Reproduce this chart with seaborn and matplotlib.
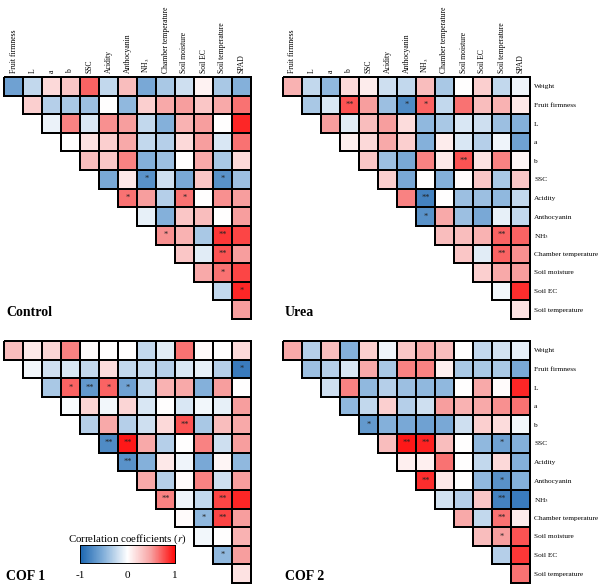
import numpy as np
import pandas as pd
import matplotlib
matplotlib.use('Agg')
import matplotlib.pyplot as plt
import seaborn as sns
from matplotlib.colors import LinearSegmentedColormap

# variable names
col_labels = ['Fruit firmness', 'L', 'a', 'b', 'SSC', 'Acidity', 'Anthocyanin', 'NH$_3$',
              'Chamber temperature', 'Soil moisture', 'Soil EC', 'Soil temperature', 'SPAD']
row_labels = ['Weight', 'Fruit firmness', 'L', 'a', 'b', 'SSC', 'Acidity', 'Anthocyanin', 'NH$_3$',
              'Chamber temperature', 'Soil moisture', 'Soil EC', 'Soil temperature']

# upper triangle correlations, row i starts at column i
control = [
    [-0.6, -0.25, 0.2, 0.3, 0.7, -0.25, 0.35, -0.55, -0.35, -0.2, 0.07, -0.35, -0.5],
    [0.25, -0.3, -0.35, -0.4, 0.0, -0.45, 0.25, 0.45, 0.5, 0.3, 0.45, 0.65],
    [-0.08, 0.6, -0.15, 0.55, 0.5, -0.25, -0.5, 0.4, 0.5, 0.0, 0.9],
    [0.0, 0.15, 0.25, 0.45, -0.25, -0.3, 0.2, 0.5, -0.15, 0.65],
    [0.35, 0.3, 0.6, -0.5, -0.4, 0.0, 0.45, -0.35, 0.2],
    [-0.55, 0.12, -0.7, -0.2, -0.55, 0.3, -0.7, -0.4],
    [0.65, 0.5, -0.3, 0.65, 0.0, 0.55, 0.5],
    [-0.1, -0.5, 0.3, 0.35, 0.0, 0.5],
    [0.55, 0.4, -0.35, 0.85, 0.8],
    [0.3, -0.12, 0.75, 0.5],
    [0.45, 0.65, 0.8],
    [-0.25, 0.9],
    [0.5],
]
urea = [
    [0.4, -0.25, -0.45, 0.2, 0.1, -0.2, -0.25, 0.35, -0.35, 0.0, 0.25, -0.25, -0.07],
    [-0.35, -0.15, 0.75, 0.5, -0.4, -0.75, 0.7, -0.25, 0.65, 0.35, 0.4, 0.12],
    [0.5, -0.12, 0.35, 0.5, 0.18, -0.45, -0.35, -0.15, -0.2, -0.4, -0.5],
    [0.08, 0.2, 0.45, 0.25, -0.5, 0.1, -0.15, -0.3, -0.07, -0.6],
    [0.3, -0.4, -0.55, 0.6, 0.12, 0.75, 0.15, 0.6, 0.05],
    [0.25, -0.55, 0.0, -0.5, 0.02, 0.3, -0.35, 0.3],
    [0.6, -0.8, 0.0, -0.4, -0.4, -0.45, -0.25],
    [-0.7, 0.45, -0.4, -0.55, -0.1, -0.25],
    [0.35, 0.35, 0.4, 0.7, 0.7],
    [0.3, -0.12, 0.7, 0.55],
    [0.25, 0.45, 0.5],
    [-0.05, 0.88],
    [0.15],
]
cof1 = [
    [0.35, 0.12, 0.22, 0.6, 0.02, 0.0, 0.0, -0.25, -0.12, 0.65, 0.03, 0.0, 0.2],
    [-0.05, -0.2, -0.15, -0.25, 0.18, -0.25, -0.25, -0.3, -0.15, -0.1, -0.3, -0.85],
    [-0.35, 0.7, -0.65, 0.7, -0.6, -0.25, 0.4, 0.45, -0.5, 0.5, 0.0],
    [-0.03, 0.22, -0.05, 0.22, -0.15, 0.0, -0.15, -0.05, -0.1, 0.5],
    [-0.3, 0.45, -0.3, -0.2, 0.2, 0.75, -0.35, 0.35, 0.45],
    [-0.75, 0.95, 0.45, -0.3, 0.0, 0.6, -0.2, 0.5],
    [-0.7, -0.5, 0.12, -0.07, -0.55, 0.05, -0.45],
    [0.45, -0.3, 0.02, 0.6, -0.2, 0.5],
    [0.6, -0.07, -0.25, 0.8, 0.9],
    [0.02, -0.45, 0.8, 0.5],
    [-0.05, 0.0, 0.4],
    [-0.45, 0.5],
    [0.15],
]
cof2 = [
    [0.45, -0.3, 0.35, -0.5, 0.25, -0.07, 0.3, 0.45, 0.35, 0.0, -0.25, -0.18, -0.1],
    [-0.4, -0.3, -0.15, 0.45, -0.35, 0.6, 0.6, 0.08, -0.35, -0.35, -0.35, -0.55],
    [-0.2, 0.6, -0.45, -0.3, -0.4, -0.45, -0.45, 0.0, 0.45, 0.02, 0.9],
    [-0.45, -0.25, 0.25, -0.3, -0.2, 0.5, 0.4, 0.45, 0.55, 0.65],
    [-0.65, -0.5, -0.55, -0.6, -0.55, -0.2, 0.25, 0.18, -0.05],
    [0.35, 0.95, 0.92, 0.35, 0.0, -0.45, -0.6, -0.5],
    [0.08, 0.08, 0.65, 0.0, -0.25, 0.2, -0.5],
    [0.88, 0.12, 0.0, -0.45, -0.7, -0.5],
    [-0.18, -0.3, 0.3, -0.8, -0.85],
    [0.45, -0.25, 0.65, 0.1],
    [0.35, 0.5, 0.75],
    [-0.3, 0.85],
    [0.65],
]

# significance marks (row, col)
control_sig = {(5, 7): '*', (5, 11): '*', (6, 6): '*', (6, 9): '*', (8, 8): '*',
               (8, 11): '**', (9, 11): '**', (10, 11): '*', (11, 12): '*'}
urea_sig = {(1, 3): '**', (1, 6): '*', (1, 7): '*', (4, 9): '**', (6, 7): '**',
            (7, 7): '*', (8, 11): '**', (9, 11): '**'}
cof1_sig = {(1, 12): '*', (2, 3): '*', (2, 4): '**', (2, 5): '*', (2, 6): '*', (4, 9): '**',
            (5, 5): '**', (5, 6): '**', (6, 6): '**', (8, 8): '**', (8, 11): '**',
            (9, 10): '*', (9, 11): '**', (11, 11): '*'}
cof2_sig = {(4, 4): '*', (5, 6): '**', (5, 7): '**', (5, 11): '*', (7, 7): '**',
            (7, 11): '*', (8, 11): '**', (9, 11): '**', (10, 11): '*'}

plt.rcParams['font.family'] = 'serif'
plt.rcParams['font.serif'] = ['Liberation Serif', 'DejaVu Serif']
plt.rcParams['mathtext.fontset'] = 'stix'

cmap = LinearSegmentedColormap.from_list(
    'bwr_corr', ['#1a65b0', '#84b0da', '#ffffff', '#f7a0a0', '#ff0a0a'])

n = len(row_labels)


def to_frame(tri):
    m = np.full((n, n), np.nan)
    for i, vals in enumerate(tri):
        m[i, i:] = vals
    return pd.DataFrame(m, index=row_labels, columns=col_labels)


def to_annot(sig):
    a = np.full((n, n), '', dtype=object)
    for (i, j), s in sig.items():
        a[i, j] = s
    return a


W, H = 605, 587
fig = plt.figure(figsize=(W / 100, H / 100), dpi=100)

panels = [
    ('Control', control, control_sig, 4, 77, True, False),
    ('Urea', urea, urea_sig, 283, 77, True, True),
    ('COF 1', cof1, cof1_sig, 4, 341, False, False),
    ('COF 2', cof2, cof2_sig, 283, 341, False, True),
]
gw, gh = 247, 242

cax = fig.add_axes([80 / W, 1 - 563 / H, 95 / W, 18 / H])
cax.set_zorder(5)

for name, tri, sig, x0, y0, top, right in panels:
    ax = fig.add_axes([x0 / W, 1 - (y0 + gh) / H, gw / W, gh / H])
    ax.patch.set_alpha(0)
    df = to_frame(tri)
    mask = df.isna().values
    use_cbar = name == 'COF 1'
    sns.heatmap(df, mask=mask, cmap=cmap, vmin=-1, vmax=1, linewidths=0,
                annot=to_annot(sig), fmt='', annot_kws={'fontsize': 6, 'color': '#222222'},
                cbar=use_cbar, cbar_ax=cax if use_cbar else None,
                cbar_kws={'orientation': 'horizontal', 'ticks': [-1, 0, 1]} if use_cbar else None,
                ax=ax)
    # black outline on the drawn cells only, as a separate unfilled mesh
    ec = np.zeros((n * n, 4))
    ec[~mask.ravel()] = [0, 0, 0, 1]
    grid = ax.pcolormesh(np.zeros((n, n)), linewidth=1.1, clip_on=False)
    grid.set_array(None)
    grid.set_facecolor('none')
    grid.set_edgecolor(ec)
    ax.set_xlim(0, n)
    ax.set_ylim(n, 0)
    ax.set_xlabel('')
    ax.set_ylabel('')
    ax.tick_params(length=0)
    if top:
        ax.xaxis.tick_top()
        ax.set_xticks(np.arange(n) + 0.5)
        ax.set_xticklabels(col_labels, rotation=90, fontsize=5.5)
        ax.tick_params(axis='x', pad=3)
    else:
        ax.set_xticks([])
    if right:
        ax.yaxis.tick_right()
        ax.set_yticks(np.arange(n) + 0.5)
        ax.set_yticklabels(row_labels, rotation=0, fontsize=5.3)
        ax.tick_params(axis='y', pad=3)
    else:
        ax.set_yticks([])
    ty = 312 if top else 577
    fig.text((x0 + 2) / W, 1 - ty / H, name, fontsize=10, fontweight='bold', va='center', ha='left')

cax.tick_params(length=0, labelsize=8, pad=6)
cax.set_xticklabels(['-1', '0', '1'])
for s in cax.spines.values():
    s.set_visible(True)
    s.set_linewidth(0.6)
fig.text(127 / W, 1 - 539 / H, 'Correlation coefficients ($r$)', fontsize=7.8, ha='center', va='center')

fig.savefig('out.png', dpi=100)
